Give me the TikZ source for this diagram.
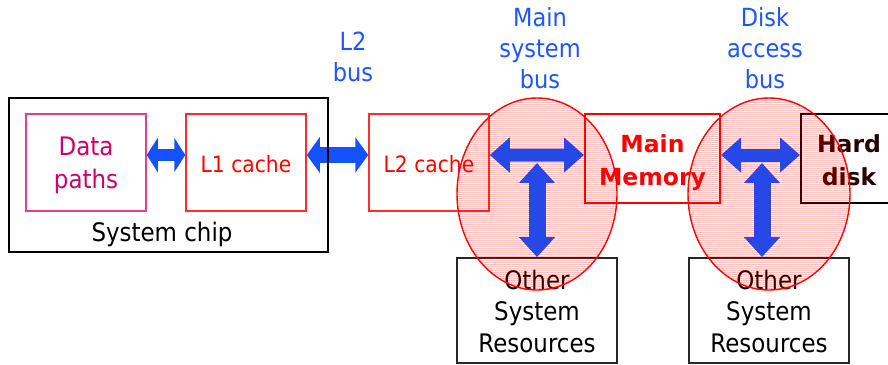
\documentclass[tikz,border=0pt]{standalone}
\usepackage{fontspec}
\setmainfont[FakeStretch=0.9]{DejaVu Sans}
\newfontfamily\heavyfont{DejaVu Sans}
\usetikzlibrary{arrows.meta,shapes.geometric}

\definecolor{busblue}{RGB}{30,85,255}
\definecolor{linkblue}{RGB}{20,82,255}
\definecolor{busarrowblue}{RGB}{38,72,230}
\definecolor{cachered}{RGB}{255,45,45}
\definecolor{pathmag}{RGB}{204,0,102}
\definecolor{pathedge}{RGB}{222,64,140}
\definecolor{diskdark}{RGB}{40,0,0}

\begin{document}
\begin{tikzpicture}[x=1bp,y=-1bp,
  bigtext/.style={font=\fontsize{25.5bp}{32.5bp}\selectfont, align=center, inner sep=0pt, anchor=base},
  cachetext/.style={font=\fontsize{22.5bp}{30bp}\selectfont, text=red, inner sep=0pt, anchor=base},
  bustext/.style={font=\fontsize{25bp}{31bp}\selectfont, text=busblue, align=center, inner sep=0pt, anchor=base},
  boldtext/.style={font=\heavyfont\bfseries\fontsize{23.5bp}{33bp}\selectfont, align=center, inner sep=0pt, anchor=base},
  unit/.style n args={2}{draw, fill=white, inner sep=0pt, minimum width=#1, minimum height=#2},
  busarrow/.style n args={4}{draw=#4, line width=#1,
    {Triangle[length=#2,width=#3]}-{Triangle[length=#2,width=#3]}},
  hatch/.style={draw=red, draw opacity=0.25, line width=1bp},
  buszone/.style={ellipse, draw=red, line width=1.4bp, inner sep=0pt,
    minimum width=#1, minimum height=192bp}]
\clip (0,0) rectangle (888,364);

% boxes
\node[unit={120bp}{97bp}, draw=pathedge, line width=1.5bp] (dp) at (86,162.5) {};
\node[unit={120bp}{97bp}, draw=cachered, line width=1.5bp] (l1) at (246,162.5) {};
\node[unit={120bp}{97bp}, draw=cachered, line width=1.5bp] (l2) at (429,162.5) {};
\node[unit={135bp}{89bp}, draw=red, line width=2bp] (mm) at (652.5,158.5) {};
\node[unit={94bp}{89bp}, draw=black, line width=2bp] (hd) at (848,158.5) {};
\node[unit={160bp}{105bp}, draw=black!85, line width=1.8bp] (or1) at (537,310.5) {};
\node[unit={160bp}{105bp}, draw=black!85, line width=1.8bp] (or2) at (769,310.5) {};

% texts
\node[bigtext, text=black] (chiplbl) at (162,241) {System chip};
\node[bigtext, text=pathmag] (dplbl) at (86,188) {Data\\paths};
\node[cachetext] (l1lbl) at (246,172.5) {L1 cache};
\node[cachetext] (l2lbl) at (429,172.5) {L2 cache};
\node[boldtext, text=red] (mmlbl) at (652.5,185) {Main\\Memory};
\node[boldtext, text=diskdark] (hdlbl) at (849,185) {Hard\\disk};
\node[bigtext, text=black, font=\fontsize{25.5bp}{31.5bp}\selectfont] (or1lbl) at (537,352) {Other\\System\\Resources};
\node[bigtext, text=black, font=\fontsize{25.5bp}{31.5bp}\selectfont] (or2lbl) at (769,352) {Other\\System\\Resources};

% bus labels
\node[bustext] (l2bus) at (353,81.5) {L2\\bus};
\node[bustext] (mainbus) at (540,88) {Main\\system\\bus};
\node[bustext] (diskbus) at (765,88) {Disk\\access\\bus};

% hatched bus regions
\begin{scope}
  \clip (537,194) ellipse [x radius=80bp, y radius=96bp];
  \foreach \k in {0,...,96} \draw[hatch] (450,{98.5+2*\k}) -- (625,{98.5+2*\k});
\end{scope}
\begin{scope}
  \clip (769,194) ellipse [x radius=81bp, y radius=96bp];
  \foreach \k in {0,...,96} \draw[hatch] (680,{98.5+2*\k}) -- (860,{98.5+2*\k});
\end{scope}

% bus arrows
\draw[busarrow={12bp}{11bp}{34bp}{linkblue}] ([yshift=7.5bp]dp.east) -- ([yshift=7.5bp]l1.west);
\draw[busarrow={16bp}{13bp}{35bp}{linkblue}] ([yshift=7.5bp]l1.east) -- ([yshift=7.5bp]l2.west);
\draw[busarrow={13bp}{20bp}{34bp}{busarrowblue}] ([yshift=7.5bp]l2.east) -- ([yshift=3.5bp]mm.west);
\draw[busarrow={13bp}{20bp}{34bp}{busarrowblue}] ([yshift=3.5bp]mm.east) -- ([yshift=3.5bp]hd.west);
\coordinate (j1) at (537,163);
\coordinate (j2) at (762,163);
\draw[busarrow={17bp}{20bp}{35bp}{busarrowblue}] (j1) -- (or1.north);
\draw[busarrow={17bp}{20bp}{35bp}{busarrowblue}] (j2) -- (j2 |- or2.north);

% the chip outline lies over the L2 link
\node[draw=black, line width=1.8bp, inner sep=0pt, minimum width=319bp, minimum height=154bp] (chip) at (168.5,175.25) {};

% outlines of the bus regions
\node[buszone=160bp] (z1) at (537,194) {};
\node[buszone=162bp] (z2) at (769,194) {};
\end{tikzpicture}
\end{document}
